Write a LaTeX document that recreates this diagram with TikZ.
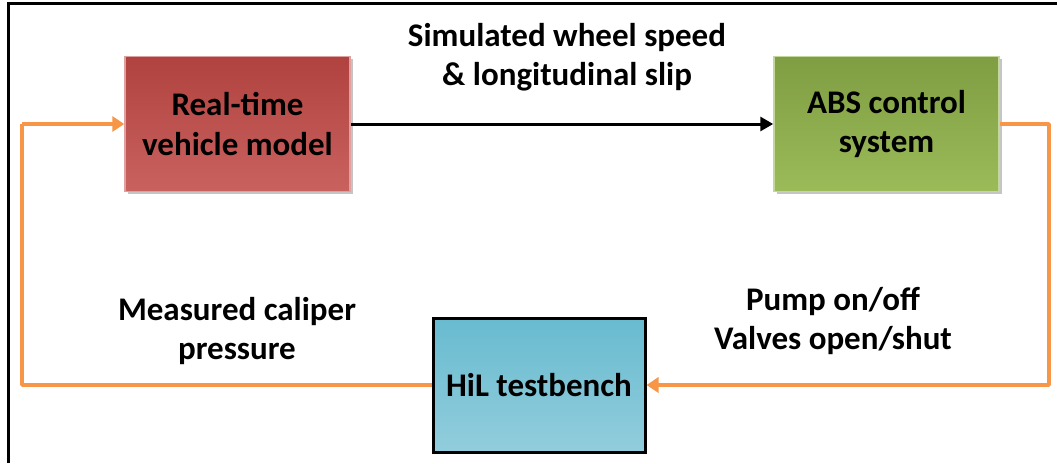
\documentclass[tikz,border=0pt]{standalone}
\usepackage{fontspec}
\setmainfont{Carlito}
\usetikzlibrary{arrows.meta,shadows}
\definecolor{orangeline}{HTML}{F79646}
\definecolor{redtop}{HTML}{B0423F}
\definecolor{redbot}{HTML}{C9625F}
\definecolor{greentop}{HTML}{7F9D42}
\definecolor{greenbot}{HTML}{9BBB59}
\definecolor{bluetop}{HTML}{68BBD0}
\definecolor{bluebot}{HTML}{92CDDC}
\tikzset{
  blk/.style={minimum width=225pt, minimum height=135pt, align=center,
    font=\fontsize{33}{39.5}\selectfont\bfseries, inner sep=0pt},
  redblk/.style={blk, top color=redtop, bottom color=redbot, draw=redbot!60!white, line width=1.5pt,
    drop shadow={shadow xshift=2.5pt, shadow yshift=-2.5pt, fill=black!45}},
  greenblk/.style={blk, top color=greentop, bottom color=greenbot, draw=greenbot!60!white, line width=1.5pt,
    drop shadow={shadow xshift=2.5pt, shadow yshift=-2.5pt, fill=black!45}},
  blueblk/.style={blk, minimum width=212pt, minimum height=134pt, top color=bluetop, bottom color=bluebot, draw=black, line width=3pt},
  lbl/.style={align=center, font=\fontsize{33}{39.5}\selectfont\bfseries, inner sep=0pt},
  orng/.style={draw=orangeline, line width=3.5pt, line join=round},
  orngarrow/.style={orng, -{Triangle[length=12pt, width=15pt]}},
  blkarrow/.style={line width=3pt, -{Triangle[length=13pt, width=14pt]}},
}
\begin{document}
\begin{tikzpicture}[x=1pt, y=-1pt]
\useasboundingbox (0,0) rectangle (1057,463);
\fill[white] (0,0) rectangle (1057,463);
\draw[line width=3pt] (8,463) -- (8,3) -- (1057,3);

\node[redblk] (veh) at (237.5,124) {Real-time\\vehicle model};
\node[greenblk] (abs) at (886.5,124) {ABS control\\system};
\node[blueblk] (hil) at (539,385) {HiL testbench};

\coordinate (lt) at (22,124);
\coordinate (lb) at (22,385);
\coordinate (rt) at (1049,124);
\coordinate (rb) at (1049,385);

\draw[blkarrow] (veh.east) -- (abs.west);
\draw[orng] (hil.west) -- (lb) -- (lt);
\draw[orngarrow] (lt) -- (veh.west);
\draw[orngarrow] (abs.east) -- (rt) -- (rb) -- (hil.east);

\node[lbl] (t1) at (567,57) {Simulated wheel speed\\\& longitudinal slip};
\node[lbl] (t2) at (237,331) {Measured caliper\\pressure};
\node[lbl] (t3) at (833,321) {Pump on/off\\Valves open/shut};
\end{tikzpicture}
\end{document}
